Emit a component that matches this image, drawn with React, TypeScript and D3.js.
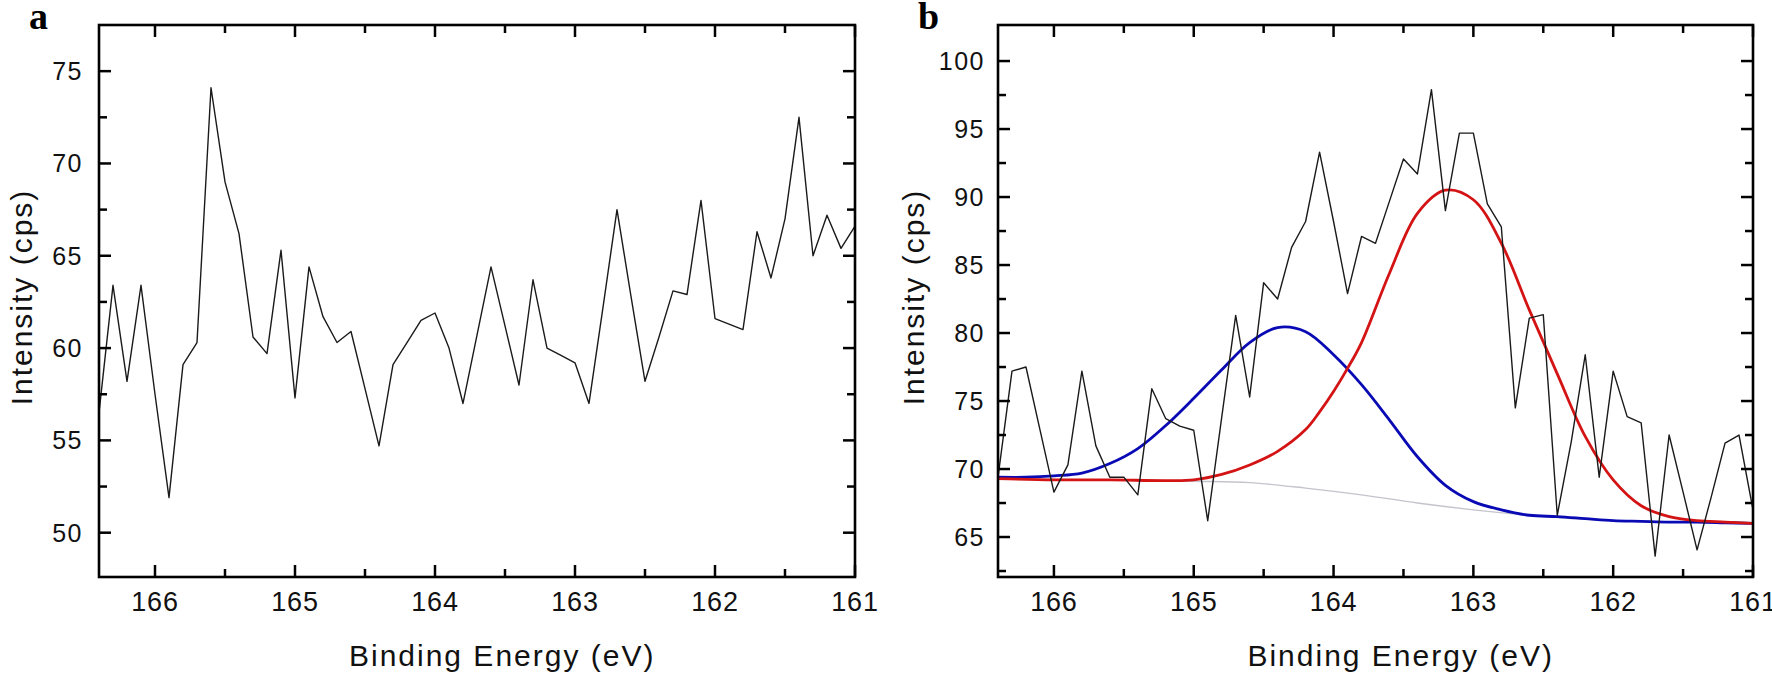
import React from 'react';
import * as d3 from 'd3';

// Binding energy grid of the raw spectra (eV)
const bindingEnergy = [
  166.4, 166.3, 166.2, 166.1, 166.0, 165.9, 165.8, 165.7, 165.6, 165.5,
  165.4, 165.3, 165.2, 165.1, 165.0, 164.9, 164.8, 164.7, 164.6, 164.5,
  164.4, 164.3, 164.2, 164.1, 164.0, 163.9, 163.8, 163.7, 163.6, 163.5,
  163.4, 163.3, 163.2, 163.1, 163.0, 162.9, 162.8, 162.7, 162.6, 162.5,
  162.4, 162.3, 162.2, 162.1, 162.0, 161.9, 161.8, 161.7, 161.6, 161.5,
  161.4, 161.3, 161.2, 161.1, 161.0,
];

// Panel a: raw intensity (cps)
const intensityA = [
  56.5, 63.4, 58.2, 63.4, 57.5, 51.9, 59.1, 60.3, 74.1, 69.0,
  66.2, 60.6, 59.7, 65.3, 57.3, 64.4, 61.7, 60.3, 60.9, 57.8,
  54.7, 59.1, 60.3, 61.5, 61.9, 60.0, 57.0, 60.7, 64.4, 61.2,
  58.0, 63.7, 60.0, 59.6, 59.2, 57.0, 62.2, 67.5, 62.8, 58.2,
  60.6, 63.1, 62.9, 68.0, 61.6, 61.3, 61.0, 66.3, 63.8, 67.0,
  72.5, 65.0, 67.2, 65.4, 66.6,
];

// Panel b: raw intensity (cps)
const intensityB = [
  69.4, 77.2, 77.5, 72.9, 68.3, 70.3, 77.2, 71.7, 69.4, 69.4,
  68.1, 75.9, 73.7, 73.15, 72.85, 66.2, 73.8, 81.3, 75.3, 83.7,
  82.5, 86.3, 88.2, 93.3, 88.2, 82.9, 87.1, 86.6, 89.7, 92.8,
  91.7, 97.9, 89.0, 94.7, 94.7, 89.5, 87.8, 74.5, 81.1, 81.35,
  66.6, 72.0, 78.4, 69.4, 77.2, 73.85, 73.4, 63.6, 72.5, 68.3,
  64.05, 67.9, 71.9, 72.5, 67.0,
];

// Panel b: fitted components
const blueEnergy = [
  166.4, 166.2, 166.0, 165.8, 165.6, 165.4, 165.2, 165.0, 164.8, 164.6,
  164.4, 164.2, 164.0, 163.8, 163.6, 163.4, 163.2, 163.0, 162.8, 162.6,
  162.4, 162.2, 162.0, 161.8, 161.6, 161.4, 161.2, 161.0,
];
const peak1Fit = [
  69.4, 69.4, 69.5, 69.7, 70.4, 71.5, 73.2, 75.2, 77.3, 79.3,
  80.4, 80.1, 78.4, 76.2, 73.6, 70.9, 68.8, 67.6, 67.0, 66.6,
  66.5, 66.35, 66.2, 66.15, 66.1, 66.1, 66.05, 66.0,
];
const redEnergy = [
  166.4, 166.0, 165.6, 165.2, 165.0, 164.8, 164.6, 164.4, 164.2, 164.1,
  164.0, 163.9, 163.8, 163.6, 163.4, 163.2, 163.0, 162.8, 162.6, 162.4,
  162.2, 162.0, 161.8, 161.6, 161.4, 161.2, 161.0,
];
const peak2Fit = [
  69.3, 69.2, 69.2, 69.15, 69.2, 69.6, 70.3, 71.3, 72.9, 74.2,
  75.7, 77.4, 79.3, 84.4, 88.8, 90.5, 89.8, 86.6, 81.7, 77.0,
  72.4, 69.2, 67.3, 66.5, 66.2, 66.1, 66.0,
];
const bgEnergy = [166.4, 165.6, 165.0, 164.6, 164.2, 163.8, 163.4, 163.0, 162.6, 162.2, 161.6, 161.0];
const backgroundFit = [69.3, 69.2, 69.1, 69.0, 68.6, 68.1, 67.5, 67.0, 66.6, 66.3, 66.1, 66.0];

// Axis ticks
const xTicks = [166, 165, 164, 163, 162, 161];
const xMinorTicks = [165.5, 164.5, 163.5, 162.5, 161.5];
const yTicksA = [50, 55, 60, 65, 70, 75];
const yMinorTicksA = [52.5, 57.5, 62.5, 67.5, 72.5];
const yTicksB = [65, 70, 75, 80, 85, 90, 95, 100];
const yMinorTicksB = [62.5, 67.5, 72.5, 77.5, 82.5, 87.5, 92.5, 97.5];

const SANS = '"Liberation Sans", Arial, sans-serif';
const SERIF = '"Liberation Serif", "Times New Roman", serif';

type Series = { x: number[]; y: number[]; color: string; width: number; smooth: boolean };

function Panel(props: {
  left: number; right: number; top: number; bottom: number;
  yDomain: [number, number]; yTicks: number[]; yMinor: number[];
  letter: string; letterX: number; yTitleX: number; yLabelGap: number;
  series: Series[];
}) {
  const { left, right, top, bottom, yDomain, yTicks, yMinor, letter, letterX, yTitleX, yLabelGap, series } = props;
  const x = d3.scaleLinear().domain([166.4, 161]).range([left, right]);
  const y = d3.scaleLinear().domain(yDomain).range([bottom, top]);
  const major = 12;
  const minor = 8;
  const tickW = 2.5;
  const clipId = 'clip-' + letter;
  return (
    <g>
      <defs>
        <clipPath id={clipId}>
          <rect x={left} y={top} width={right - left} height={bottom - top} />
        </clipPath>
      </defs>
      <g clipPath={`url(#${clipId})`}>
        {series.map((s, i) => {
          const pts = s.x.map((v, j) => [v, s.y[j]] as [number, number]);
          const line = d3
            .line<[number, number]>()
            .x((d) => x(d[0]))
            .y((d) => y(d[1]))
            .curve(s.smooth ? d3.curveCatmullRom.alpha(0.5) : d3.curveLinear);
          return (
            <path key={i} d={line(pts) || ''} fill="none" stroke={s.color} strokeWidth={s.width} strokeLinejoin="round" />
          );
        })}
      </g>
      {xTicks.map((t) => (
        <g key={'xt' + t}>
          <line x1={x(t)} x2={x(t)} y1={bottom} y2={bottom - major} stroke="#000" strokeWidth={tickW} />
          <line x1={x(t)} x2={x(t)} y1={top} y2={top + major} stroke="#000" strokeWidth={tickW} />
          <text x={x(t)} y={611} textAnchor="middle" fontFamily={SANS} fontSize={27} letterSpacing={0.8} fill="#111">
            {t}
          </text>
        </g>
      ))}
      {xMinorTicks.map((t) => (
        <g key={'xm' + t}>
          <line x1={x(t)} x2={x(t)} y1={bottom} y2={bottom - minor} stroke="#000" strokeWidth={tickW} />
          <line x1={x(t)} x2={x(t)} y1={top} y2={top + minor} stroke="#000" strokeWidth={tickW} />
        </g>
      ))}
      {yTicks.map((t) => (
        <g key={'yt' + t}>
          <line x1={left} x2={left + major} y1={y(t)} y2={y(t)} stroke="#000" strokeWidth={tickW} />
          <line x1={right} x2={right - major} y1={y(t)} y2={y(t)} stroke="#000" strokeWidth={tickW} />
          <text x={left - yLabelGap} y={y(t)} dy="0.36em" textAnchor="end" fontFamily={SANS} fontSize={25} letterSpacing={1.5} fill="#111">
            {t}
          </text>
        </g>
      ))}
      {yMinor.map((t) => (
        <g key={'ym' + t}>
          <line x1={left} x2={left + minor} y1={y(t)} y2={y(t)} stroke="#000" strokeWidth={tickW} />
          <line x1={right} x2={right - minor} y1={y(t)} y2={y(t)} stroke="#000" strokeWidth={tickW} />
        </g>
      ))}
      <rect x={left} y={top} width={right - left} height={bottom - top} fill="none" stroke="#000" strokeWidth={2.6} />
      <text x={x(163.52)} y={666} textAnchor="middle" fontFamily={SANS} fontSize={30} letterSpacing={2} fill="#111">
        Binding Energy (eV)
      </text>
      <text
        transform={`translate(${yTitleX},${297}) rotate(-90)`}
        textAnchor="middle"
        fontFamily={SANS}
        fontSize={30}
        letterSpacing={2}
        fill="#111"
      >
        Intensity (cps)
      </text>
      <text x={letterX} y={29} fontFamily={SERIF} fontWeight="bold" fontSize={38} fill="#000">
        {letter}
      </text>
    </g>
  );
}

export default function App() {
  return (
    <div style={{ position: 'fixed', left: 0, top: 0, width: 1772, height: 676, background: '#fff' }}>
      <svg width={1772} height={676} viewBox="0 0 1772 676" style={{ display: 'block' }}>
        <rect x={0} y={0} width={1772} height={676} fill="#fff" />
        <Panel
          left={99}
          right={855}
          top={25}
          bottom={577}
          yDomain={[47.6, 77.5]}
          yTicks={yTicksA}
          yMinor={yMinorTicksA}
          letter="a"
          letterX={29}
          yTitleX={32}
          yLabelGap={16}
          series={[{ x: bindingEnergy, y: intensityA, color: '#1a1a1a', width: 1.4, smooth: false }]}
        />
        <Panel
          left={998}
          right={1753}
          top={25}
          bottom={577}
          yDomain={[62.06, 102.65]}
          yTicks={yTicksB}
          yMinor={yMinorTicksB}
          letter="b"
          letterX={918}
          yTitleX={924}
          yLabelGap={13}
          series={[
            { x: bgEnergy, y: backgroundFit, color: '#c4c4cc', width: 1.3, smooth: true },
            { x: blueEnergy, y: peak1Fit, color: '#0a0ab4', width: 2.8, smooth: true },
            { x: redEnergy, y: peak2Fit, color: '#d41414', width: 2.8, smooth: true },
            { x: bindingEnergy, y: intensityB, color: '#1a1a1a', width: 1.4, smooth: false },
          ]}
        />
      </svg>
    </div>
  );
}
